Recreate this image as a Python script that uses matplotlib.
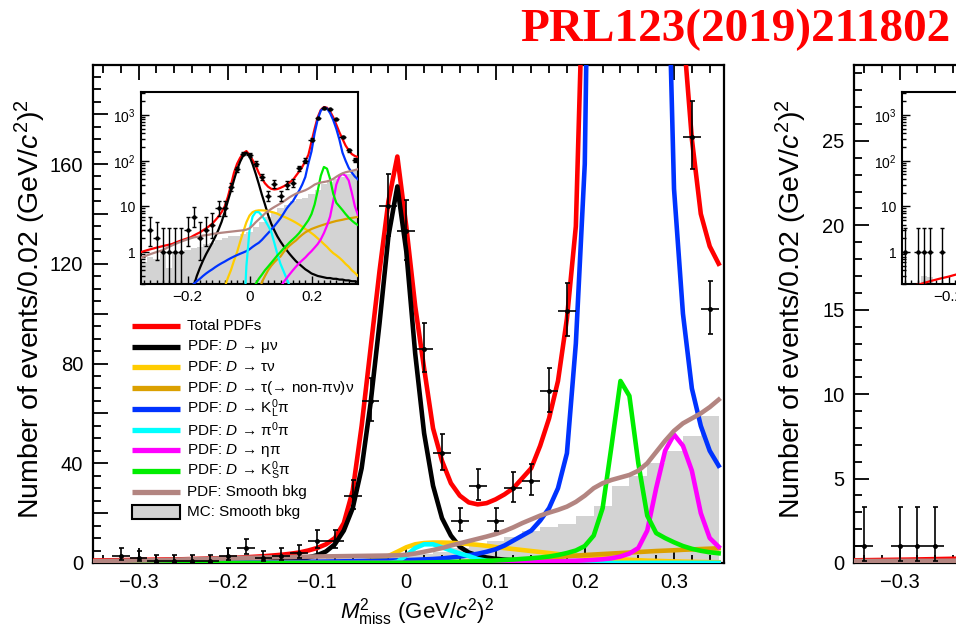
import numpy as np
import matplotlib
matplotlib.use('Agg')
import matplotlib.pyplot as plt
from matplotlib.ticker import MultipleLocator, FixedLocator, FixedFormatter, FuncFormatter, LogLocator, NullFormatter

plt.rcParams['font.family'] = ['Liberation Sans', 'DejaVu Sans']
plt.rcParams['mathtext.fontset'] = 'custom'
plt.rcParams['mathtext.rm'] = 'Liberation Sans'
plt.rcParams['mathtext.it'] = 'Liberation Sans:italic'
plt.rcParams['mathtext.bf'] = 'Liberation Sans:bold'

# ---------------- data: left panel ----------------
# bin centres of the data / MC histograms (bin width 0.02)
bin_centers = [-0.34, -0.32, -0.30, -0.28, -0.26, -0.24, -0.22, -0.20, -0.18, -0.16,
               -0.14, -0.12, -0.10, -0.08, -0.06, -0.04, -0.02, 0.00, 0.02, 0.04,
               0.06, 0.08, 0.10, 0.12, 0.14, 0.16, 0.18, 0.20, 0.22, 0.24,
               0.26, 0.28, 0.30, 0.32, 0.34]
data_counts = [0, 3, 2, 1, 1, 1, 1, 3, 6, 2,
               3, 4, 9, 9, 27, 65, 143, 133, 86, 44,
               17, 31, 17, 30, 33, 69, 101, 290, 850, 1400,
               1350, 800, 330, 171, 102]
mc_smooth_bkg = [0.6, 0.8, 0.7, 0.9, 0.45, 1.0, 1.0, 1.1, 1.2, 1.3,
                 1.5, 1.6, 1.8, 2.0, 2.2, 2.3, 2.5, 2.8, 3.5, 4.5,
                 6.0, 7.5, 9.0, 10.5, 13.0, 14.5, 15.5, 19.0, 23.0, 31.0,
                 35.0, 40.0, 45.0, 51.0, 59.0]

# PDF curves sampled at M2miss = -0.35 ... 0.35 (step 0.01)
curve_x = np.round(np.arange(-35, 36) * 0.01, 2)
pdf_total = [1.0, 1.05, 1.1, 1.15, 1.2, 1.25, 1.3, 1.35, 1.4, 1.45,
             1.5, 1.6, 1.7, 1.8, 1.9, 2.0, 2.1, 2.3, 2.5, 2.7,
             3.0, 3.3, 3.7, 4.2, 5.0, 6.0, 7.5, 10, 16, 29,
             55, 86, 117, 145, 163, 135, 103, 78, 54, 41,
             32, 27, 24.3, 23.5, 24, 25.5, 27.5, 30, 34, 38,
             47, 58, 73, 98, 135, 260, 500, 900, 1300, 1500,
             1450, 1200, 900, 620, 420, 300, 215, 170, 140, 127,
             120]
pdf_munu = [0.1, 0.1, 0.1, 0.1, 0.1, 0.1, 0.1, 0.1, 0.1, 0.1,
            0.1, 0.1, 0.1, 0.1, 0.1, 0.1, 0.12, 0.18, 0.3, 0.45,
            0.65, 0.9, 1.2, 1.6, 2.2, 3.1, 4.6, 7.5, 13, 22,
            38, 64, 96, 131, 151, 125, 84, 52, 31, 18,
            11, 6.5, 4.2, 3.0, 2.2, 1.7, 1.35, 1.1, 0.9, 0.75,
            0.63, 0.55, 0.48, 0.42, 0.38, 0.34, 0.32, 0.3, 0.29, 0.28,
            0.27, 0.27, 0.26, 0.26, 0.25, 0.25, 0.24, 0.24, 0.23, 0.23,
            0.22]
pdf_taunu = [0.05, 0.05, 0.05, 0.05, 0.05, 0.05, 0.05, 0.05, 0.05, 0.05,
             0.05, 0.05, 0.05, 0.05, 0.05, 0.05, 0.05, 0.05, 0.05, 0.05,
             0.05, 0.05, 0.05, 0.05, 0.05, 0.06, 0.1, 0.17, 0.27, 0.4,
             0.65, 1.0, 1.7, 2.8, 4.5, 6.3, 7.5, 8.0, 8.2, 8.2,
             8.1, 7.9, 7.6, 7.3, 6.9, 6.4, 6.0, 5.6, 5.2, 4.8,
             4.4, 4.0, 3.6, 3.2, 2.9, 2.6, 2.3, 2.0, 1.75, 1.5,
             1.3, 1.1, 0.95, 0.85, 0.75, 0.65, 0.55, 0.48, 0.4, 0.35,
             0.3]
pdf_tau_nonpi = [0.05, 0.05, 0.05, 0.05, 0.05, 0.05, 0.05, 0.05, 0.05, 0.05,
                 0.05, 0.05, 0.05, 0.05, 0.05, 0.05, 0.05, 0.05, 0.05, 0.05,
                 0.05, 0.05, 0.05, 0.05, 0.05, 0.05, 0.05, 0.05, 0.05, 0.05,
                 0.05, 0.05, 0.05, 0.05, 0.05, 0.05, 0.05, 0.05, 0.12, 0.22,
                 0.3, 0.4, 0.5, 0.6, 0.7, 0.8, 1.0, 1.2, 1.4, 1.6,
                 1.8, 2.1, 2.4, 2.7, 2.95, 3.2, 3.4, 3.6, 3.8, 4.0,
                 4.2, 4.4, 4.6, 4.8, 4.95, 5.1, 5.3, 5.45, 5.6, 5.75,
                 5.9]
pdf_klpi = [0.1, 0.1, 0.1, 0.1, 0.1, 0.1, 0.1, 0.1, 0.1, 0.1,
            0.1, 0.11, 0.12, 0.13, 0.14, 0.15, 0.17, 0.2, 0.23, 0.26,
            0.3, 0.34, 0.38, 0.42, 0.47, 0.52, 0.57, 0.62, 0.68, 0.74,
            0.8, 0.86, 0.92, 0.98, 1.05, 1.15, 1.3, 1.45, 1.6, 1.85,
            2.2, 2.6, 3.1, 3.7, 4.5, 5.5, 7.0, 9.0, 11, 13,
            17, 22, 30, 44, 88, 160, 400, 800, 1250, 1450,
            1400, 1100, 780, 500, 290, 150, 100, 70, 55, 45,
            39]
pdf_pi0pi = [0.02, 0.02, 0.02, 0.02, 0.02, 0.02, 0.02, 0.02, 0.02, 0.02,
             0.02, 0.02, 0.02, 0.02, 0.02, 0.02, 0.02, 0.02, 0.02, 0.02,
             0.02, 0.02, 0.02, 0.02, 0.02, 0.02, 0.02, 0.02, 0.02, 0.02,
             0.02, 0.02, 0.02, 0.02, 0.5, 3.0, 6.0, 7.5, 7.5, 6.3,
             5.0, 3.8, 2.8, 1.6, 0.9, 0.55, 0.38, 0.26, 0.18, 0.12,
             0.05, 0.05, 0.05, 0.05, 0.05, 0.05, 0.05, 0.05, 0.05, 0.05,
             0.05, 0.05, 0.05, 0.05, 0.05, 0.05, 0.05, 0.05, 0.05, 0.05,
             0.05]
pdf_etapi = [0.05, 0.05, 0.05, 0.05, 0.05, 0.05, 0.05, 0.05, 0.05, 0.05,
             0.05, 0.05, 0.05, 0.05, 0.05, 0.05, 0.05, 0.05, 0.05, 0.05,
             0.05, 0.05, 0.05, 0.05, 0.05, 0.05, 0.05, 0.05, 0.05, 0.05,
             0.05, 0.05, 0.05, 0.05, 0.05, 0.05, 0.05, 0.05, 0.05, 0.05,
             0.05, 0.06, 0.08, 0.1, 0.13, 0.17, 0.22, 0.27, 0.33, 0.4,
             0.48, 0.57, 0.66, 0.76, 0.9, 1.05, 1.25, 1.5, 1.9, 2.6,
             3.8, 6.0, 13, 30, 45, 51.5, 47, 37, 20, 10,
             6.5]
pdf_kspi = [0.05, 0.05, 0.05, 0.05, 0.05, 0.05, 0.05, 0.05, 0.05, 0.05,
            0.05, 0.05, 0.05, 0.05, 0.05, 0.05, 0.05, 0.05, 0.05, 0.05,
            0.05, 0.05, 0.05, 0.05, 0.05, 0.05, 0.05, 0.05, 0.05, 0.05,
            0.05, 0.05, 0.05, 0.05, 0.05, 0.07, 0.12, 0.2, 0.26, 0.32,
            0.4, 0.48, 0.58, 0.7, 0.85, 1.0, 1.2, 1.4, 1.65, 1.9,
            2.2, 2.6, 3.2, 4.0, 5.0, 6.8, 11, 22, 47, 73,
            67, 40, 19, 12, 10, 8.3, 6.8, 5.7, 4.9, 4.3,
            3.9]
pdf_smooth = [0.75, 0.8, 0.85, 0.9, 0.95, 1.0, 1.05, 1.1, 1.2, 1.3,
              1.4, 1.5, 1.6, 1.7, 1.8, 1.9, 2.0, 2.1, 2.15, 2.2,
              2.3, 2.35, 2.4, 2.5, 2.55, 2.6, 2.65, 2.7, 2.75, 2.8,
              2.85, 2.9, 2.95, 3.0, 3.1, 3.3, 3.8, 4.5, 5.2, 6.0,
              7.0, 7.9, 8.8, 9.7, 10.6, 11.6, 12.8, 14.3, 16.0, 17.5,
              19.0, 20.2, 21.3, 22.6, 24.5, 27.0, 30.0, 32.0, 33.3, 34.3,
              35.3, 37.0, 40.0, 44.5, 49.0, 53.0, 56.0, 58.0, 60.0, 62.5,
              65.5]

# ---------------- data: right panel (partly visible) ----------------
r_bin_centers = [-0.34, -0.32, -0.30, -0.28, -0.26, -0.24, -0.22, -0.20, -0.18]
r_data_counts = [1, 0, 1, 1, 1, 0, 1, 0, 0]
r_mc_smooth_bkg = [0.1, 0.1, 0.12, 0.3, 0.28, 0.12, 0.1, 0.1, 0.1]
r_curve_x = [-0.35, -0.32, -0.29, -0.26, -0.23, -0.20, -0.17, -0.14]
r_pdf_total = [0.16, 0.18, 0.2, 0.23, 0.26, 0.29, 0.33, 0.38]
r_pdf_smooth = [0.12, 0.12, 0.13, 0.13, 0.14, 0.15, 0.16, 0.17]
r_pdf_zero = [0.0, 0.0, 0.0, 0.0, 0.0, 0.0, 0.0, 0.0]

legend_labels = ['Total PDFs', 'PDF: $D$ → μν', 'PDF: $D$ → τν',
                 'PDF: $D$ → τ(→ non-πν)ν', 'PDF: $D$ → K$^{0}_{\\mathrm{L}}$π',
                 'PDF: $D$ → π$^{0}$π', 'PDF: $D$ → ηπ',
                 'PDF: $D$ → K$^{0}_{\\mathrm{S}}$π', 'PDF: Smooth bkg',
                 'MC: Smooth bkg']

C_RED, C_BLK, C_YEL, C_ORA = '#ff0000', '#000000', '#ffcc00', '#dba000'
C_BLU, C_CYA, C_MAG, C_GRN = '#0033ff', '#00ffff', '#ff00ff', '#00ee00'
C_BRN, C_GRY = '#b38581', '#d3d3d3'

curves = [(pdf_total, C_RED), (pdf_munu, C_BLK), (pdf_taunu, C_YEL),
          (pdf_tau_nonpi, C_ORA), (pdf_klpi, C_BLU), (pdf_pi0pi, C_CYA),
          (pdf_etapi, C_MAG), (pdf_kspi, C_GRN), (pdf_smooth, C_BRN)]

# ---------------- figure ----------------
W, H = 956, 637
fig = plt.figure(figsize=(W / 100, H / 100), dpi=100)


def box(l, t, r, b):
    return [l / W, 1 - b / H, (r - l) / W, (b - t) / H]


def edges_of(centers):
    c = np.asarray(centers, float)
    return np.append(c - 0.01, c[-1] + 0.01)


def draw_points(a, centers, counts, lw, ms, cap):
    c = np.asarray(centers, float)
    n = np.asarray(counts, float)
    m = n > 0
    lo = np.sqrt(n[m] - 0.25)
    hi = np.sqrt(n[m] + 0.75) + 1.0
    a.errorbar(c[m], n[m], yerr=[lo, hi], fmt='none', ecolor='k',
               elinewidth=lw, capsize=cap, capthick=lw, zorder=6)
    a.errorbar(c[m], n[m], xerr=0.01, fmt='o', ms=ms, color='k',
               elinewidth=lw, capsize=0, zorder=6)


def make_xfmt(keep=None):
    def f(v, pos):
        if keep is not None and all(abs(v - k) > 1e-6 for k in keep):
            return ''
        if abs(v) < 1e-9:
            return '0'
        return f'{v:.1f}'.replace('-', '\u2212')
    return f


def style_main(a, ymax, ymajor, ylab_every, yminor, keep=None):
    a.set_xlim(-0.351, 0.356)
    a.set_ylim(0, ymax)
    a.xaxis.set_major_locator(MultipleLocator(0.1))
    a.xaxis.set_minor_locator(MultipleLocator(0.02))
    a.xaxis.set_major_formatter(FuncFormatter(make_xfmt(keep)))
    a.yaxis.set_major_locator(MultipleLocator(ymajor))
    a.yaxis.set_minor_locator(MultipleLocator(yminor))
    a.yaxis.set_major_formatter(FuncFormatter(
        lambda v, p: f'{int(round(v))}' if round(v) % ylab_every == 0 else ''))
    a.tick_params(which='both', direction='in', top=True, right=False,
                  width=1.3, labelsize=14.5)
    a.tick_params(which='major', length=11, pad=7)
    a.tick_params(which='minor', length=5.5)
    for s in a.spines.values():
        s.set_linewidth(1.6)
    a.set_ylabel('Number of events/0.02 (GeV/$c^{2}$)$^{2}$', fontsize=20.5)
    a.yaxis.set_label_coords(-0.072, 0.51)


def style_inset(a, keep=None):
    a.set_yscale('log')
    a.set_xlim(-0.35, 0.35)
    a.set_ylim(0.2, 3200)
    a.xaxis.set_major_locator(FixedLocator([-0.2, 0.0, 0.2]))
    a.xaxis.set_minor_locator(MultipleLocator(0.02))
    a.xaxis.set_major_formatter(FuncFormatter(make_xfmt(keep)))
    a.yaxis.set_major_locator(FixedLocator([1, 10, 100, 1000]))
    a.yaxis.set_major_formatter(FixedFormatter(['1', '10', '$10^{2}$', '$10^{3}$']))
    a.yaxis.set_minor_locator(LogLocator(base=10, subs=np.arange(2, 10)))
    a.yaxis.set_minor_formatter(NullFormatter())
    a.tick_params(which='both', direction='in', top=False, right=False, width=1.0)
    a.tick_params(axis='x', which='major', length=6, labelsize=11, pad=4)
    a.tick_params(axis='y', which='major', length=6, labelsize=10, pad=4)
    a.tick_params(which='minor', length=3)
    for s in a.spines.values():
        s.set_linewidth(1.5)


# ---- left main panel ----
ax = fig.add_axes(box(93, 65, 724, 563))
ax.stairs(mc_smooth_bkg, edges_of(bin_centers), fill=True, color=C_GRY, lw=0, zorder=1)
for vals, col in curves:
    ax.plot(curve_x, vals, color=col, lw=3.3, zorder=3, solid_joinstyle='round')
draw_points(ax, bin_centers, data_counts, lw=1.2, ms=2.5, cap=1.8)
style_main(ax, 199.7, 20, 40, 5)
ax.set_xlabel('$M^{2}_{\\mathrm{miss}}$ (GeV/$c^{2}$)$^{2}$', fontsize=16)
ax.xaxis.set_label_coords(0.513, -0.066)

# legend (ROOT-like, evenly spaced rows)
leg_colors = [C_RED, C_BLK, C_YEL, C_ORA, C_BLU, C_CYA, C_MAG, C_GRN, C_BRN]
for i, lab in enumerate(legend_labels):
    yy = (563 - (326 + i * 20.7)) / 498
    x0, x1 = (132 - 93) / 631, (180 - 93) / 631
    if i < len(leg_colors):
        ax.plot([x0, x1], [yy, yy], transform=ax.transAxes, color=leg_colors[i],
                lw=3.8, solid_capstyle='butt', zorder=7, clip_on=False)
    else:
        ax.add_patch(plt.Rectangle((x0, yy - 7 / 498), x1 - x0, 14 / 498,
                                   transform=ax.transAxes, facecolor=C_GRY,
                                   edgecolor='k', lw=1.5, zorder=7))
    ax.text((187 - 93) / 631, yy, lab, transform=ax.transAxes, fontsize=11,
            va='center', ha='left', zorder=7)

# ---- left inset ----
ins = fig.add_axes(box(141, 92, 358, 284))
ins.set_zorder(5)
ins.stairs(mc_smooth_bkg, edges_of(bin_centers), baseline=0.01, fill=True,
           color=C_GRY, lw=0, zorder=1)
for vals, col in curves:
    ins.plot(curve_x, vals, color=col, lw=1.6, zorder=3)
draw_points(ins, bin_centers, data_counts, lw=1.0, ms=2.2, cap=1.2)
style_inset(ins)

# ---- right main panel (cut by the figure edge) ----
ax2 = fig.add_axes(box(854, 65, 1485, 563))
ax2.stairs(r_mc_smooth_bkg, edges_of(r_bin_centers), fill=True, color=C_GRY, lw=0, zorder=1)
ax2.plot(r_curve_x, r_pdf_zero, color=C_ORA, lw=3.3, zorder=3)
ax2.plot(r_curve_x, r_pdf_total, color=C_RED, lw=3.3, zorder=3)
ax2.plot(r_curve_x, r_pdf_smooth, color=C_BRN, lw=3.3, zorder=3)
draw_points(ax2, r_bin_centers, r_data_counts, lw=1.2, ms=2.5, cap=1.8)
style_main(ax2, 29.5, 5, 5, 1, keep=[-0.3])

ins2 = fig.add_axes(box(902, 92, 1119, 284))
ins2.set_zorder(5)
ins2.stairs(r_mc_smooth_bkg, edges_of(r_bin_centers), baseline=0.01, fill=True,
            color=C_GRY, lw=0, zorder=1)
ins2.plot(r_curve_x, r_pdf_total, color=C_RED, lw=1.6, zorder=3)
draw_points(ins2, r_bin_centers, r_data_counts, lw=1.0, ms=2.2, cap=1.2)
style_inset(ins2, keep=[-0.2])

fig.text(950 / W, 1 - 30 / H, 'PRL123(2019)211802', color='#ff0000',
         fontsize=34, fontweight='bold', family='Liberation Serif',
         ha='right', va='center')

fig.savefig('out.png', dpi=100)
